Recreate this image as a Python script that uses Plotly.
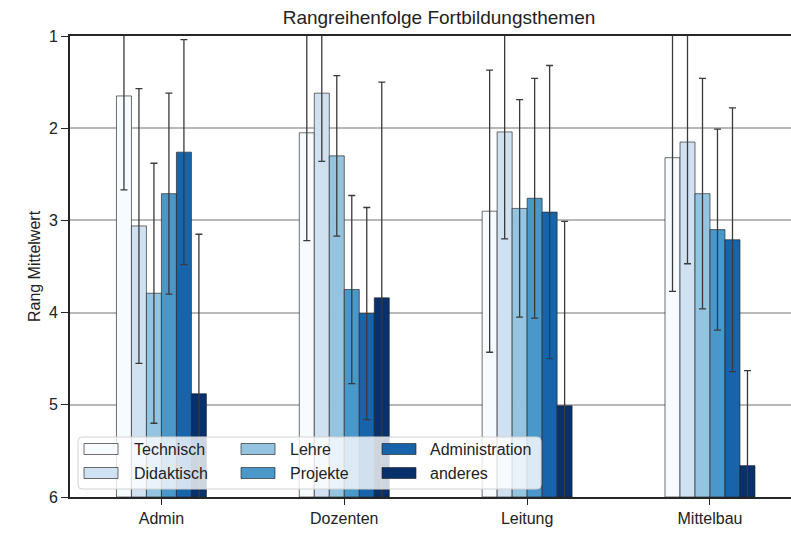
import plotly.graph_objects as go

# Gruppen (x-Achse) und Themen (Balken je Gruppe)
groups = ["Admin", "Dozenten", "Leitung", "Mittelbau"]
topics = ["Technisch", "Didaktisch", "Lehre", "Projekte", "Administration", "anderes"]

# mittlerer Rang je Thema, Reihenfolge wie groups
mean_rank = {
    "Technisch": [1.65, 2.05, 2.90, 2.32],
    "Didaktisch": [3.06, 1.62, 2.04, 2.15],
    "Lehre": [3.79, 2.30, 2.87, 2.71],
    "Projekte": [2.71, 3.75, 2.76, 3.10],
    "Administration": [2.26, 4.01, 2.91, 3.21],
    "anderes": [4.88, 3.84, 5.01, 5.66],
}

# Standardabweichung (Fehlerbalken)
std_rank = {
    "Technisch": [1.02, 1.17, 1.53, 1.45],
    "Didaktisch": [1.49, 0.74, 1.16, 1.32],
    "Lehre": [1.41, 0.87, 1.18, 1.25],
    "Projekte": [1.09, 1.02, 1.30, 1.09],
    "Administration": [1.22, 1.15, 1.59, 1.43],
    "anderes": [1.73, 2.34, 2.00, 1.03],
}

# matplotlib "Blues", 6 Stufen
colors = ["#f7fbff", "#d0e1f2", "#94c4df", "#4a98c9", "#1764ab", "#08306b"]

RANK_MIN, RANK_MAX = 1, 6

W, H = 791, 533
L, R, T, B = 70, 0, 36, 36
PW, PH = W - L - R, H - T - B

FONT = "Liberation Sans, Arial, sans-serif"
EDGE = "rgba(35,35,35,0.65)"


def px_x(x):
    return (x - L) / PW


def px_y(y):
    return 1 - (y - T) / PH


fig = go.Figure()

for topic, color in zip(topics, colors):
    vals = mean_rank[topic]
    fig.add_trace(
        go.Bar(
            name=topic,
            x=groups,
            y=[v - RANK_MAX for v in vals],
            base=RANK_MAX,
            customdata=vals,
            marker=dict(color=color, line=dict(color=EDGE, width=1)),
            error_y=dict(
                type="data",
                array=std_rank[topic],
                color="#3a3a3a",
                thickness=1.3,
                width=3.5,
            ),
            showlegend=False,
            hovertemplate="%{x}<br>" + topic + ": %{customdata:.2f}<extra></extra>",
        )
    )

# Legende von Hand (3 Spalten, 2 Zeilen, wie bei matplotlib)
box_x0, box_x1, box_y0, box_y1 = px_x(78), px_x(541), px_y(437), px_y(489)
rx, ry = 4 / PW, 4 / PH
box_path = (
    f"M {box_x0 + rx},{box_y0} L {box_x1 - rx},{box_y0} "
    f"Q {box_x1},{box_y0} {box_x1},{box_y0 - ry} "
    f"L {box_x1},{box_y1 + ry} Q {box_x1},{box_y1} {box_x1 - rx},{box_y1} "
    f"L {box_x0 + rx},{box_y1} Q {box_x0},{box_y1} {box_x0},{box_y1 + ry} "
    f"L {box_x0},{box_y0 - ry} Q {box_x0},{box_y0} {box_x0 + rx},{box_y0} Z"
)
shapes = [
    dict(
        type="path",
        path=box_path,
        xref="paper",
        yref="paper",
        fillcolor="rgba(255,255,255,0.8)",
        line=dict(color="#d2d2d2", width=1),
        layer="above",
    )
]
annotations = []
sym_x = [84, 241, 382]
txt_x = [132, 288, 428]
row_y = [449, 473]
for i, (topic, color) in enumerate(zip(topics, colors)):
    col, row = i // 2, i % 2
    shapes.append(
        dict(
            type="rect",
            xref="paper",
            yref="paper",
            x0=px_x(sym_x[col]),
            x1=px_x(sym_x[col] + 34),
            y0=px_y(row_y[row] - 5.5),
            y1=px_y(row_y[row] + 5.5),
            fillcolor=color,
            line=dict(color=EDGE, width=1),
            layer="above",
        )
    )
    annotations.append(
        dict(
            text=topic,
            xref="paper",
            yref="paper",
            x=px_x(txt_x[col]),
            y=px_y(row_y[row]),
            xanchor="left",
            yanchor="middle",
            showarrow=False,
            font=dict(family=FONT, size=16, color="#222"),
        )
    )

fig.update_layout(
    width=W,
    height=H,
    margin=dict(l=L, r=R, t=T, b=B),
    paper_bgcolor="white",
    plot_bgcolor="white",
    barmode="group",
    bargap=0.508,
    bargroupgap=0,
    font=dict(family=FONT, size=16, color="#222"),
    title=dict(
        text="Rangreihenfolge Fortbildungsthemen",
        xref="container",
        x=439 / W,
        xanchor="center",
        y=1 - 17 / H,
        yanchor="middle",
        font=dict(family=FONT, size=19, color="#222"),
    ),
    shapes=shapes,
    annotations=annotations,
)

fig.update_xaxes(
    range=[-0.5, 3.443],
    showline=True,
    mirror=True,
    linecolor="#262626",
    linewidth=1.6,
    ticks="outside",
    ticklen=6,
    tickwidth=1.3,
    tickcolor="#262626",
    showgrid=False,
    tickfont=dict(size=16),
)

fig.update_yaxes(
    range=[RANK_MAX, RANK_MIN],
    tickvals=list(range(RANK_MIN, RANK_MAX + 1)),
    showline=True,
    linecolor="#262626",
    linewidth=1.6,
    ticks="outside",
    ticklen=7,
    tickwidth=1.3,
    tickcolor="#262626",
    showgrid=True,
    gridcolor="#b8b8b8",
    gridwidth=1.5,
    zeroline=False,
    tickfont=dict(size=16),
    title=dict(text="Rang Mittelwert", font=dict(size=16), standoff=4),
)

# Seitenrand des Browsers entfernen, damit die Figur bei (0, 0) beginnt
fig.write_html(
    "out.html",
    config={"displayModeBar": False},
    post_script="document.body.style.margin = '0px';",
)
